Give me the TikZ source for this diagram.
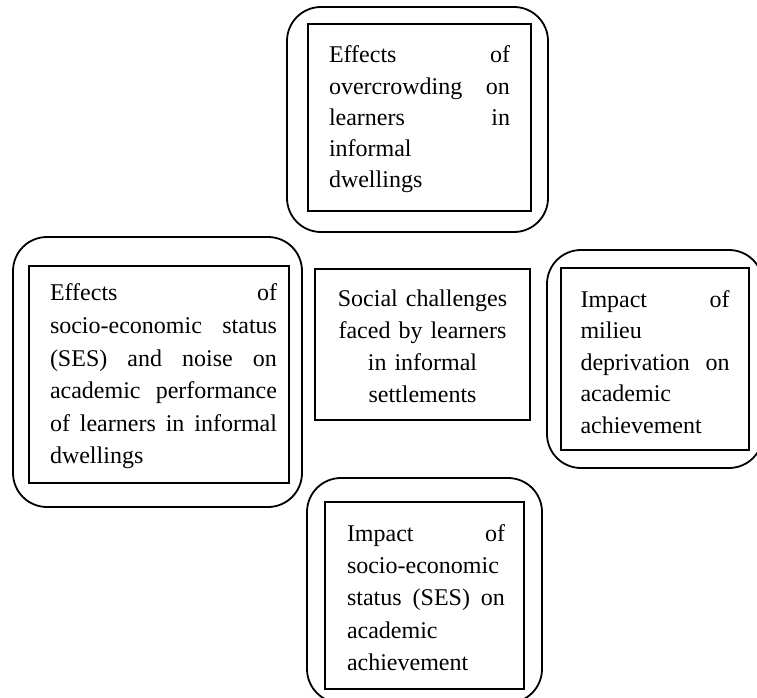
\documentclass[tikz,border=0pt]{standalone}
\usepackage{fontspec}
\setmainfont{Liberation Serif}
\setlength{\parindent}{0pt}
\begin{document}
\begin{tikzpicture}[x=1pt,y=-1pt,
  outerbox/.style={draw=black, line width=1.8pt, rounded corners=34pt, inner sep=0pt},
  innerbox/.style={draw=black, line width=2.2pt, inner sep=0pt},
  txt/.style={font=\fontsize{24}{#1}\selectfont, inner sep=0pt, align=left},
  ctxt/.style={font=\fontsize{24}{32}\selectfont, inner sep=0pt, align=center}]
\useasboundingbox (0,0) rectangle (757,698);
\clip (0,0) rectangle (757,698);
\fill[white] (0,0) rectangle (757,698);

% top
\node[outerbox, minimum width=261pt, minimum height=225pt] (topout) at (417.5,119.5) {};
\node[innerbox, minimum width=223pt, minimum height=187pt] (topin) at (419.5,117.5) {};
\node[txt=31.2, text width=181pt] (toptext) at ([yshift=-2pt]topin.center)
  {Effects\hfill of\\overcrowding\hfill on\\learners\hfill in\\informal\\dwellings};

% left
\node[outerbox, minimum width=289pt, minimum height=270pt] (leftout) at (157.5,372) {};
\node[innerbox, minimum width=260pt, minimum height=217pt] (leftin) at (159,374.5) {};
\node[txt=32.6, text width=227pt] (lefttext) at ([xshift=4.5pt,yshift=-2pt]leftin.center)
  {Effects\hfill of\\socio-economic\hfill status\\(SES)\hfill and\hfill noise\hfill on\\academic\hfill performance\\of\hfill learners\hfill in\hfill informal\\dwellings};

% centre
\node[innerbox, minimum width=215pt, minimum height=151pt] (centre) at (422.5,344.5) {};
\node[ctxt, text width=180pt] (centretext) at ([yshift=-2pt]centre.center)
  {Social challenges\\faced by learners\\in informal\\settlements};

% right
\node[outerbox, minimum width=216pt, minimum height=218pt] (rightout) at (655,359) {};
\node[innerbox, minimum width=188pt, minimum height=182pt] (rightin) at (655,359) {};
\node[txt=31.4, text width=149pt] (righttext) at ([yshift=-3pt]rightin.center)
  {Impact\hfill of\\milieu\\deprivation\hfill on\\academic\\achievement};

% bottom
\node[outerbox, minimum width=235pt, minimum height=225pt] (botout) at (424.5,590.5) {};
\node[innerbox, minimum width=199pt, minimum height=187pt] (botin) at (424.5,595.5) {};
\node[txt=32.2, text width=158pt] (bottext) at ([xshift=1.5pt,yshift=-2pt]botin.center)
  {Impact\hfill of\\socio-economic\\status\hfill (SES)\hfill on\\academic\\achievement};
\end{tikzpicture}
\end{document}
